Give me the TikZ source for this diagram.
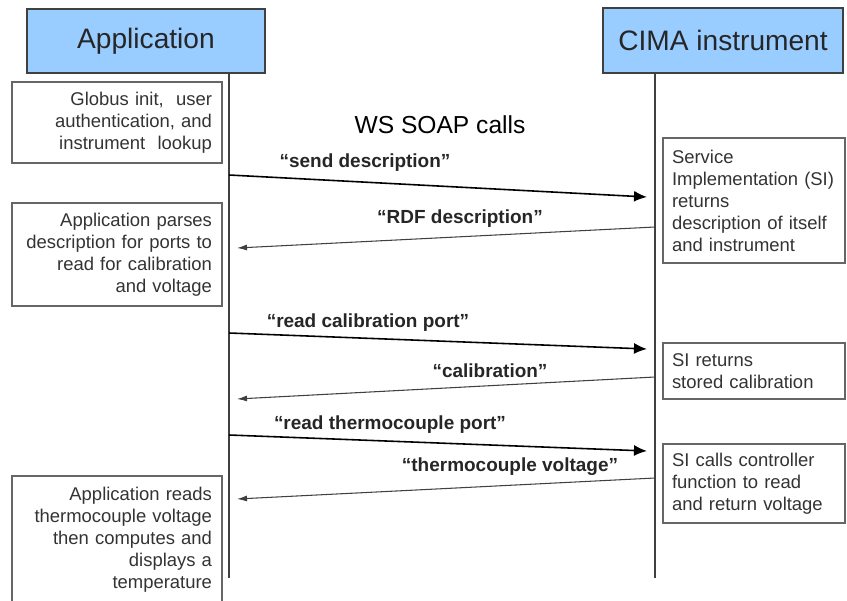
\documentclass[tikz,border=0pt]{standalone}
\usepackage{fontspec}
\setmainfont{Liberation Sans}
\usetikzlibrary{arrows.meta}
\definecolor{hdrblue}{RGB}{153,204,255}

\begin{document}
\begin{tikzpicture}[
  hdr/.style={draw=black!75, fill=hdrblue, line width=0.8pt, text=black!85, font=\fontsize{16}{19}\selectfont},
  leftbox/.style={draw=black!60, line width=0.9pt, text width=3.80cm, inner xsep=0.2cm, align=right, text=black!80, font=\fontsize{10.5}{12.5}\selectfont},
  rightbox/.style={draw=black!60, line width=0.9pt, text width=3.28cm, inner xsep=0.18cm, align=left, text=black!80, font=\fontsize{10.5}{12.5}\selectfont},
  life/.style={draw=black!75, line width=0.7pt},
  call/.style={black, line width=0.9pt, -{Latex[length=2.6mm, width=2.2mm]}},
  reply/.style={black!75, line width=0.6pt, -{Latex[length=2mm, width=1.2mm]}},
  msg/.style={font=\bfseries\fontsize{10.8}{13}\selectfont, text=black!85}
]
\clip (0,0) rectangle (16.94,12);

% heads and lifelines
\node[hdr, minimum width=4.76cm, minimum height=1.28cm] (app) at (2.92,11.18) {Application};
\node[hdr, minimum width=4.80cm, minimum height=1.30cm] (cima) at (14.46,11.19) {CIMA instrument};
\coordinate (appEnd) at (4.58,0.44);
\coordinate (cimaEnd) at (13.10,0.44);
\draw[life] (appEnd |- app.south) -- (appEnd);
\draw[life] (cimaEnd |- cima.south) -- (cimaEnd);

\node[font=\fontsize{14}{17}\selectfont] (soap) at (8.80,9.50) {WS SOAP calls};

% application side
\node[leftbox, minimum height=1.62cm] (init) at (2.34,9.55) {Globus init,~ user\\ authentication, and\\ instrument~ lookup};
\node[leftbox, minimum height=2.06cm] (parse) at (2.34,6.91) {Application parses\\ description for ports to\\ read for calibration\\ and voltage};
\node[leftbox, minimum height=2.56cm] (reads) at (2.34,1.20) {Application reads\\ thermocouple voltage\\ then computes and\\ displays a\\ temperature};

% instrument side
\node[rightbox, minimum height=2.50cm] (si) at (15.08,7.99) {Service\\ Implementation (SI)\\ returns\\ description of itself\\ and instrument};
\node[rightbox, minimum height=1.12cm] (stored) at (15.08,4.58) {SI returns\\ stored calibration};
\node[rightbox, minimum height=1.58cm] (ctrl) at (15.08,2.33) {SI calls controller\\ function to read\\ and return voltage};

% calls
\coordinate (sendA) at (4.58,8.50);
\coordinate (sendB) at (12.94,8.06);
\coordinate (rdfA) at (13.10,7.46);
\coordinate (rdfB) at (4.74,7.04);
\coordinate (calA) at (4.58,5.34);
\coordinate (calB) at (12.94,5.02);
\coordinate (calbackA) at (13.10,4.46);
\coordinate (calbackB) at (4.74,4.02);
\coordinate (thermA) at (4.58,3.30);
\coordinate (thermB) at (12.94,2.98);
\coordinate (voltA) at (13.10,2.44);
\coordinate (voltB) at (4.74,2.02);

\draw[call] (sendA) -- (sendB);
\draw[reply] (rdfA) -- (rdfB);
\draw[call] (calA) -- (calB);
\draw[reply] (calbackA) -- (calbackB);
\draw[call] (thermA) -- (thermB);
\draw[reply] (voltA) -- (voltB);

\node[msg] (sendlbl) at (7.30,8.74) {“send description”};
\node[msg] (rdflbl) at (9.20,7.62) {“RDF description”};
\node[msg] (callbl) at (7.36,5.54) {“read calibration port”};
\node[msg] (calbacklbl) at (9.80,4.58) {“calibration”};
\node[msg] (thermlbl) at (7.80,3.50) {“read thermocouple port”};
\node[msg] (voltlbl) at (10.20,2.66) {“thermocouple voltage”};
\end{tikzpicture}
\end{document}
